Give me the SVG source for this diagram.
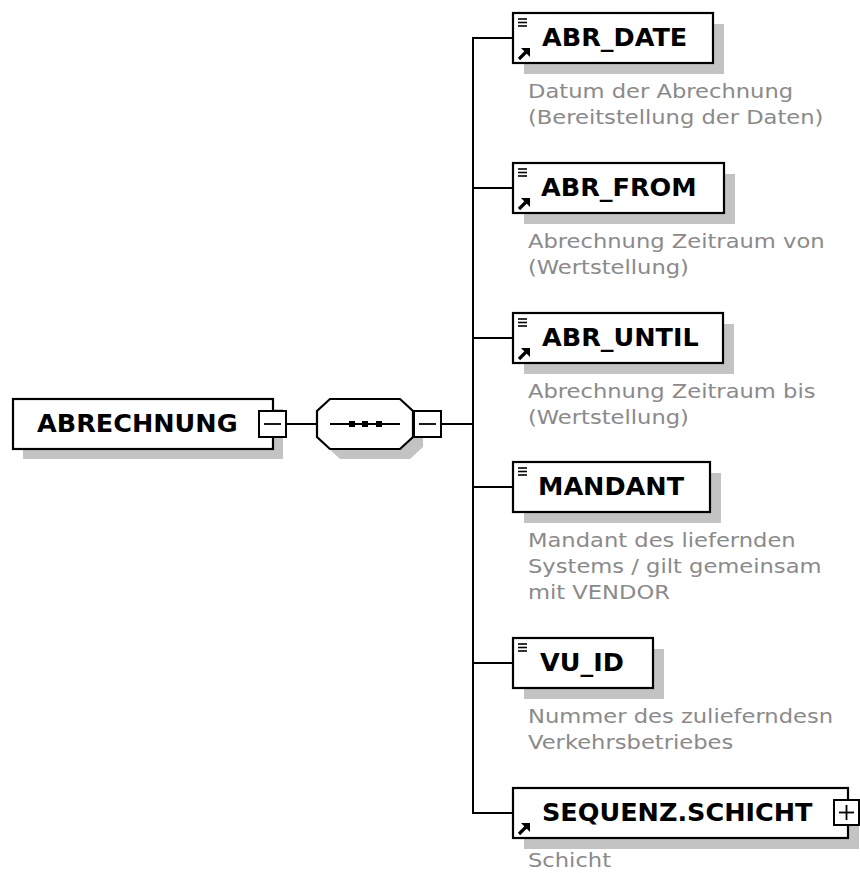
<svg xmlns="http://www.w3.org/2000/svg" width="860" height="873" viewBox="0 0 860 873">
<style>
.shadow{fill:#c3c3c3;stroke:none}
.box{fill:#fff;stroke:#000;stroke-width:2.2}
.conn{fill:none;stroke:#000;stroke-width:2}
.t{font-family:"DejaVu Sans",Verdana,sans-serif;font-weight:bold;font-size:25.5px;fill:#000}
.d{font-family:"DejaVu Sans",Verdana,sans-serif;font-size:19.5px;fill:#8a8a8a}
.ic{stroke:#000;stroke-width:1.6;fill:none}
.btn{fill:#fff;stroke:#000;stroke-width:2}
.sign{stroke:#000;stroke-width:1.8}
</style>
<defs>
<g id="lines"><line class="ic" x1="5" y1="6" x2="14" y2="6"/><line class="ic" x1="5" y1="9.5" x2="14" y2="9.5"/><line class="ic" x1="5" y1="13" x2="14" y2="13"/></g>
<g id="arrow"><line x1="6" y1="46" x2="13" y2="39" stroke="#000" stroke-width="3.2"/><polygon points="8,35 17,35 17,44" fill="#000"/></g>
</defs>

<g id="connectors">
<line class="conn" x1="287" y1="424" x2="317" y2="424"/>
<line class="conn" x1="440" y1="424" x2="473" y2="424"/>
<line class="conn" x1="473" y1="38" x2="473" y2="814"/>
<line class="conn" x1="472" y1="38" x2="513" y2="38"/>
<line class="conn" x1="472" y1="188" x2="513" y2="188"/>
<line class="conn" x1="472" y1="338" x2="513" y2="338"/>
<line class="conn" x1="472" y1="487" x2="513" y2="487"/>
<line class="conn" x1="472" y1="663" x2="513" y2="663"/>
<line class="conn" x1="472" y1="813" x2="513" y2="813"/>
</g>

<g id="ABRECHNUNG">
<rect class="shadow" x="23" y="409" width="260" height="50"/>
<rect class="box" x="13" y="399" width="260" height="50"/>
<text class="t" x="37" y="432">ABRECHNUNG</text>
<rect class="btn" x="259" y="411" width="27" height="26"/>
<line class="sign" x1="264" y1="424" x2="281" y2="424"/>
</g>

<g id="sequence">
<polygon class="shadow" points="340,409 410,409 423,421 423,447 410,459 340,459 327,447 327,421"/>
<polygon class="box" points="330,399 400,399 413,411 413,437 400,449 330,449 317,437 317,411"/>
<line class="conn" x1="330" y1="424" x2="400" y2="424"/>
<rect x="349" y="421" width="6" height="6" fill="#000"/>
<rect x="362" y="421" width="6" height="6" fill="#000"/>
<rect x="376" y="421" width="6" height="6" fill="#000"/>
<rect class="btn" x="414" y="411" width="27" height="26"/>
<line class="sign" x1="419" y1="424" x2="436" y2="424"/>
</g>

<g id="ABR_DATE">
<rect class="shadow" x="524" y="24" width="200" height="50"/>
<rect class="box" x="513" y="13" width="200" height="50"/>
<use href="#lines" x="513" y="13"/>
<use href="#arrow" x="513" y="13"/>
<text class="t" x="542" y="46">ABR_DATE</text>
<text class="d" transform="translate(528 98) scale(1.16 1)"><tspan x="0" y="0">Datum der Abrechnung</tspan><tspan x="0" y="26">(Bereitstellung der Daten)</tspan></text>
</g>

<g id="ABR_FROM">
<rect class="shadow" x="524" y="174" width="211" height="50"/>
<rect class="box" x="513" y="163" width="211" height="50"/>
<use href="#lines" x="513" y="163"/>
<use href="#arrow" x="513" y="163"/>
<text class="t" x="541" y="196">ABR_FROM</text>
<text class="d" transform="translate(528 248) scale(1.16 1)"><tspan x="0" y="0">Abrechnung Zeitraum von</tspan><tspan x="0" y="26">(Wertstellung)</tspan></text>
</g>

<g id="ABR_UNTIL">
<rect class="shadow" x="524" y="324" width="210" height="50"/>
<rect class="box" x="513" y="313" width="210" height="50"/>
<use href="#lines" x="513" y="313"/>
<use href="#arrow" x="513" y="313"/>
<text class="t" x="542" y="346">ABR_UNTIL</text>
<text class="d" transform="translate(528 398) scale(1.16 1)"><tspan x="0" y="0">Abrechnung Zeitraum bis</tspan><tspan x="0" y="26">(Wertstellung)</tspan></text>
</g>

<g id="MANDANT">
<rect class="shadow" x="524" y="473" width="197" height="50"/>
<rect class="box" x="513" y="462" width="197" height="50"/>
<use href="#lines" x="513" y="462"/>
<text class="t" x="538" y="495">MANDANT</text>
<text class="d" transform="translate(528 547) scale(1.16 1)"><tspan x="0" y="0">Mandant des liefernden</tspan><tspan x="0" y="26">Systems / gilt gemeinsam</tspan><tspan x="0" y="52">mit VENDOR</tspan></text>
</g>

<g id="VU_ID">
<rect class="shadow" x="524" y="649" width="140" height="50"/>
<rect class="box" x="513" y="638" width="140" height="50"/>
<use href="#lines" x="513" y="638"/>
<text class="t" x="540" y="671">VU_ID</text>
<text class="d" transform="translate(528 723) scale(1.16 1)"><tspan x="0" y="0">Nummer des zulieferndesn</tspan><tspan x="0" y="26">Verkehrsbetriebes</tspan></text>
</g>

<g id="SEQUENZ.SCHICHT">
<rect class="shadow" x="524" y="799" width="335" height="50"/>
<rect class="box" x="513" y="788" width="335" height="50"/>
<use href="#arrow" x="513" y="788"/>
<text class="t" x="542" y="821">SEQUENZ.SCHICHT</text>
<rect class="btn" x="834" y="800" width="25" height="25"/>
<line class="sign" x1="839" y1="812.5" x2="854" y2="812.5"/>
<line class="sign" x1="846.5" y1="805" x2="846.5" y2="820"/>
<text class="d" transform="translate(528 867) scale(1.16 1)">Schicht</text>
</g>
</svg>
